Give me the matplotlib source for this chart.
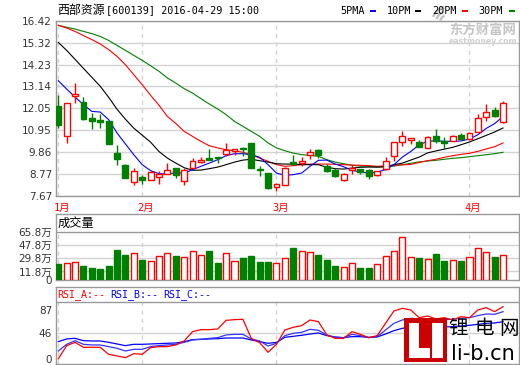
import matplotlib
matplotlib.use('Agg')
import matplotlib.pyplot as plt
from matplotlib.patches import Rectangle, Wedge
import matplotlib.transforms as mtrans

# ---------------- data ----------------
title_cn = "西部资源"
title_rest = "[600139] 2016-04-29 15:00"
months = ["1月", "2月", "3月", "4月"]
month_idx = [0, 10, 26, 49]

price_ticks = [16.42, 15.32, 14.23, 13.14, 12.05, 10.95, 9.86, 8.77, 7.67]
vol_ticks = [65.8, 47.8, 29.8, 11.8, 0]
vol_tick_labels = ["65.8万", "47.8万", "29.8万", "11.8万", "0"]
rsi_ticks = [87, 46, 0]

open_ = [12.18, 10.64, 12.68, 12.36, 11.56, 11.44, 11.39, 9.80, 9.22, 8.33, 8.60, 8.47, 8.59, 8.75, 9.05,
         8.38, 9.05, 9.34, 9.55, 9.59, 9.75, 9.92, 10.06, 10.31, 9.00, 8.80, 8.10, 8.22, 9.35, 9.30,
         9.72, 9.97, 9.14, 8.97, 8.47, 8.97, 9.00, 8.97, 8.69, 9.00, 9.64, 10.34, 10.44, 10.36, 10.06,
         10.66, 10.42, 10.42, 10.72, 10.51, 10.84, 11.59, 11.94, 11.34]
close = [11.23, 12.31, 12.77, 11.52, 11.42, 11.37, 10.27, 9.52, 8.56, 8.89, 8.47, 8.85, 8.76, 8.97, 8.69,
         8.97, 9.39, 9.47, 9.47, 9.55, 9.97, 10.00, 10.00, 9.05, 8.94, 8.05, 8.27, 9.05, 9.27, 9.39,
         9.84, 9.72, 8.92, 8.67, 8.77, 9.05, 8.84, 8.64, 8.89, 9.39, 10.34, 10.64, 10.56, 10.11, 10.61,
         10.39, 10.29, 10.67, 10.52, 10.81, 11.56, 11.84, 11.68, 12.31]
high = [12.73, 12.31, 13.31, 12.61, 11.81, 11.76, 11.39, 10.22, 9.27, 9.05, 8.72, 8.89, 8.89, 9.30, 9.05,
        9.05, 9.55, 9.59, 10.01, 9.59, 10.31, 10.00, 10.09, 10.31, 9.14, 8.80, 8.30, 9.09, 9.72, 9.59,
        10.01, 10.01, 9.27, 9.05, 8.80, 9.19, 9.00, 9.00, 8.92, 9.59, 10.34, 10.89, 10.56, 10.44, 10.64,
        11.02, 10.61, 10.69, 10.81, 10.84, 11.78, 12.26, 12.11, 12.43]
low = [11.06, 10.31, 12.31, 11.48, 11.03, 11.06, 10.27, 9.22, 8.56, 8.22, 8.27, 8.47, 8.27, 8.75, 8.55,
       8.22, 9.05, 9.30, 9.47, 9.30, 9.64, 9.72, 9.64, 9.05, 8.64, 8.02, 7.92, 8.18, 9.27, 9.14,
       9.50, 9.55, 8.84, 8.60, 8.42, 8.77, 8.77, 8.52, 8.64, 8.97, 9.42, 10.17, 10.27, 10.11, 10.06,
       10.31, 10.02, 10.39, 10.47, 10.44, 10.84, 11.42, 11.61, 11.31]

ma5 = [13.43, 13.01, 12.61, 12.23, 11.89, 11.86, 11.48, 10.81, 10.26, 9.72, 9.22, 8.92, 8.77, 8.75, 8.82,
       8.79, 8.97, 9.14, 9.30, 9.47, 9.67, 9.77, 9.77, 9.72, 9.59, 9.22, 8.80, 8.69, 8.72, 8.80,
       9.14, 9.44, 9.45, 9.25, 9.12, 8.94, 8.85, 8.80, 8.85, 8.97, 9.22, 9.60, 9.88, 10.22, 10.39,
       10.42, 10.39, 10.39, 10.41, 10.51, 10.72, 11.04, 11.28, 11.64]
ma10 = [15.35, 14.95, 14.50, 14.05, 13.60, 13.15, 12.60, 12.00, 11.50, 11.05, 10.70, 10.35, 9.88, 9.55, 9.30,
        9.07, 8.94, 8.95, 9.02, 9.10, 9.22, 9.35, 9.45, 9.49, 9.42, 9.35, 9.27, 9.25, 9.25, 9.22,
        9.22, 9.22, 9.09, 9.02, 9.00, 9.05, 9.09, 9.10, 9.10, 9.12, 9.22, 9.30, 9.45, 9.60, 9.81,
        9.91, 10.00, 10.09, 10.22, 10.36, 10.52, 10.69, 10.86, 11.06]
ma20 = [16.21, 16.07, 15.90, 15.69, 15.49, 15.27, 14.99, 14.65, 14.23, 13.73, 13.23, 12.70, 12.20, 11.64, 11.29,
        10.89, 10.64, 10.39, 10.17, 10.06, 9.97, 9.92, 9.84, 9.72, 9.55, 9.39, 9.22, 9.14, 9.17, 9.22,
        9.25, 9.25, 9.25, 9.24, 9.22, 9.20, 9.19, 9.17, 9.14, 9.15, 9.19, 9.21, 9.23, 9.33, 9.42,
        9.49, 9.59, 9.67, 9.74, 9.79, 9.89, 10.01, 10.12, 10.31]
ma30 = [16.21, 16.11, 16.02, 15.90, 15.79, 15.65, 15.45, 15.20, 14.95, 14.70, 14.45, 14.18, 13.90, 13.57, 13.31,
        13.03, 12.81, 12.53, 12.26, 12.01, 11.73, 11.39, 11.14, 10.89, 10.64, 10.31, 10.06, 9.92, 9.80, 9.72,
        9.69, 9.64, 9.47, 9.35, 9.27, 9.19, 9.15, 9.14, 9.10, 9.12, 9.15, 9.22, 9.29, 9.36, 9.40,
        9.44, 9.49, 9.54, 9.57, 9.62, 9.67, 9.72, 9.77, 9.84]

volume = [22, 23, 24.4, 20, 16.5, 15, 20, 41, 34.5, 36.8, 27.6, 25.8, 32.7, 36.8, 32.7, 31.3, 39.6, 34,
          39.6, 23.5, 36.8, 25.8, 30.4, 32.7, 24.8, 24.8, 23, 30, 43.7, 39.6, 38.2, 34.5, 27.6, 19.3,
          17.5, 23, 16.5, 16.5, 21.6, 32.7, 39.6, 58.9, 31.3, 30.4, 28.5, 35.9, 26.2, 27.1, 26.2, 31.3,
          43.7, 38.2, 31.3, 34]

rsi_a = [0.4, 23.7, 29.6, 20.8, 20.8, 20.8, 8.3, 5.4, 2.4, 9.5, 8.3, 20.2, 22.0, 22.0, 24.9, 32.0, 48.6,
         52.1, 52.1, 53.3, 68.7, 69.9, 70.5, 36.7, 29.0, 11.9, 26.1, 51.5, 56.3, 59.2, 69.3, 66.3, 42.7,
         36.7, 36.7, 48.6, 43.8, 37.9, 41.5, 63.4, 85.3, 90.0, 87.1, 73.4, 76.4, 71.1, 73.4, 69.3, 75.2,
         73.4, 87.1, 91.2, 84.1, 93.0]
rsi_b = [14.2, 26.1, 32.6, 26.1, 24.9, 24.9, 22.0, 19.0, 14.2, 17.2, 17.2, 22.0, 23.7, 24.9, 26.1, 29.6,
         33.8, 35.0, 36.7, 37.9, 42.7, 43.8, 43.8, 35.6, 32.0, 23.1, 27.9, 41.5, 45.6, 47.4, 52.7, 51.0,
         42.7, 38.5, 37.9, 43.8, 41.5, 37.9, 39.7, 51.5, 63.4, 69.3, 72.3, 71.1, 71.1, 70.5, 69.9, 70.5,
         72.3, 73.4, 77.0, 80.0, 79.4, 84.1]
rsi_c = [30.8, 35.6, 36.7, 32.6, 32.0, 32.0, 29.6, 26.7, 23.7, 26.1, 26.1, 26.7, 27.3, 27.9, 28.5, 30.8,
         34.4, 35.0, 35.6, 36.1, 37.3, 37.3, 37.3, 33.8, 30.8, 27.9, 29.6, 38.5, 40.3, 42.1, 44.4, 46.2,
         41.5, 39.1, 37.9, 39.7, 39.7, 38.5, 39.1, 44.4, 50.4, 54.5, 56.3, 56.3, 56.9, 56.9, 56.9, 57.5,
         58.6, 59.8, 61.6, 63.4, 64.0, 66.3]

# ---------------- style ----------------
RED = '#ff0000'
GREEN = '#008000'
BLUE = '#0000ff'
FRAME = '#999999'
GRID = '#d3d3d3'
TXT = '#333333'
CJK = ['Noto Sans CJK SC']
MONO = ['DejaVu Sans Mono', 'Noto Sans CJK SC']
SANS = ['DejaVu Sans', 'Noto Sans CJK SC']

W, H = 520, 365
fig = plt.figure(figsize=(W / 100, H / 100), dpi=100)
fig.patch.set_facecolor('white')


def px_axes(x0, y0, x1, y1, **kw):
    return fig.add_axes([x0 / W, 1 - y1 / H, (x1 - x0) / W, (y1 - y0) / H], **kw)


n = len(close)
xs = list(range(n))
XL = (-0.33, 54.9)

ax_p = px_axes(55.5, 20.7, 519, 195.6)
ax_v = px_axes(55.5, 214.3, 519, 280)
ax_r = px_axes(55.5, 287.3, 519, 364)

for ax in (ax_p, ax_v, ax_r):
    ax.set_xlim(*XL)
    ax.set_xticks([])
    for s in ax.spines.values():
        s.set_color(FRAME)
        s.set_linewidth(1.0)
    ax.tick_params(axis='y', length=0, pad=2.5, labelsize=7.5, labelcolor=TXT)

# ---------- price panel ----------
ax_p.set_ylim(7.67, 7.67 + (195.6 - 20.7) * 0.05013)
ax_p.set_yticks(price_ticks)
ax_p.set_yticklabels([f"{t:.2f}" for t in price_ticks], family='DejaVu Sans')
for t in price_ticks:
    ax_p.axhline(t, color=GRID, lw=1.0, zorder=0)
for m in month_idx:
    ax_p.axvline(m, color=GRID, lw=1.0, ls=(0, (3, 3)), zorder=0)

ax_p.plot(xs, ma30, color=GREEN, lw=0.8, zorder=2)
ax_p.plot(xs, ma20, color=RED, lw=0.8, zorder=2)
ax_p.plot(xs, ma10, color='black', lw=0.8, zorder=2)
ax_p.plot(xs, ma5, color=BLUE, lw=0.8, zorder=2)

bw = 0.7
for i in range(n):
    o, c, h, l = open_[i], close[i], high[i], low[i]
    if c >= o:
        ax_p.vlines(i, c, h, color=RED, lw=1.0, zorder=3)
        ax_p.vlines(i, l, o, color=RED, lw=1.0, zorder=3)
        ax_p.add_patch(Rectangle((i - bw / 2, o), bw, max(c - o, 0.02), facecolor='white',
                                 edgecolor=RED, lw=1.0, zorder=4))
    else:
        ax_p.vlines(i, l, h, color=GREEN, lw=1.0, zorder=3)
        ax_p.add_patch(Rectangle((i - bw / 2, c), bw, max(o - c, 0.02), facecolor=GREEN,
                                 edgecolor=GREEN, lw=1.0, zorder=4))

# ---------- volume panel ----------
v_sep = 65.8
ax_v.set_ylim(0, v_sep * (280 - 214.3) / (280 - 232.3))
ax_v.set_yticks(vol_ticks)
ax_v.set_yticklabels(vol_tick_labels, family=SANS)
ax_v.axhline(v_sep, color=FRAME, lw=1.0, zorder=5)
for t in vol_ticks[1:-1]:
    ax_v.axhline(t, color=GRID, lw=1.0, zorder=0)
for m in month_idx:
    ax_v.vlines(m, 0, v_sep, color=GRID, lw=1.0, ls=(0, (3, 3)), zorder=0)
vw = 0.72
for i in range(n):
    up = close[i] >= open_[i]
    ax_v.bar(i, volume[i], width=vw, color='white' if up else GREEN,
             edgecolor=RED if up else GREEN, lw=1.0, zorder=3)
ax_v.text(0.005, 0.865, "成交量", transform=ax_v.transAxes, family=CJK, fontsize=8.8,
          color='black', va='center', ha='left')

# ---------- RSI panel ----------
rpp = 1 / 0.563
r_lo = (359 - 364) * rpp
r_hi = (359 - 287.3) * rpp
r_sep = (359 - 301.7) * rpp
ax_r.set_ylim(r_lo, r_hi)
ax_r.set_yticks(rsi_ticks)
ax_r.set_yticklabels([str(t) for t in rsi_ticks], family='DejaVu Sans')
ax_r.axhline(r_sep, color=FRAME, lw=1.0, zorder=5)
ax_r.axhline(46, color=GRID, lw=1.0, zorder=0)
for m in month_idx:
    ax_r.vlines(m, r_lo, r_sep, color=GRID, lw=1.0, ls=(0, (3, 3)), zorder=0)
ax_r.plot(xs, rsi_c, color=BLUE, lw=0.9, zorder=2)
ax_r.plot(xs, rsi_b, color='#3333ff', lw=0.9, zorder=2)
ax_r.plot(xs, rsi_a, color=RED, lw=0.9, zorder=3)

# ---------- overlay (text, logos) ----------
ov = fig.add_axes([0, 0, 1, 1], zorder=10)
ov.set_xlim(0, W)
ov.set_ylim(H, 0)
ov.axis('off')
ov.patch.set_alpha(0)

ov.text(57, 10.5, title_cn, family=CJK, fontsize=8.6, color='black', va='center', ha='left')
ov.text(105.5, 10.5, title_rest, family=MONO, fontsize=7.3, color='black', va='center', ha='left')

# MA legend
leg = [("5PMA", BLUE, 340, 370), ("10PM", 'black', 387, 415), ("20PM", RED, 432, 462), ("30PM", GREEN, 478, 509)]
for lab, col, tx, dx in leg:
    ov.text(tx, 10.5, lab, family=MONO, fontsize=7.3, color='black', va='center', ha='left')
    ov.add_patch(Rectangle((dx, 9.5), 6, 2.2, color=col, lw=0))

# month labels
trans = mtrans.blended_transform_factory(ax_p.transData, ov.transData)
for lab, m in zip(months, month_idx):
    ov.text(m - 0.55, 207.5, lab, transform=trans, family=MONO, fontsize=7.5, color=RED,
            va='center', ha='left')

# RSI header
ov.text(57, 294.3, "RSI_A:--", family=MONO, fontsize=7.2, color=RED, va='center', ha='left')
ov.text(110, 294.3, "RSI_B:--", family=MONO, fontsize=7.2, color=BLUE, va='center', ha='left')
ov.text(163, 294.3, "RSI_C:--", family=MONO, fontsize=7.2, color=BLUE, va='center', ha='left')

# eastmoney watermark
wm = '#c4c4c4'
ov.text(483, 29.5, "东方财富网", family=CJK, fontsize=9.6, fontweight='bold', color=wm,
        va='center', ha='center')
ov.text(483, 41, "eastmoney.com", family='DejaVu Sans', fontsize=5.6, fontweight='bold', color='#d0d0d0',
        va='center', ha='center')
for r0, th1, th2 in [(16, 200, 260), (12, 195, 255), (8, 190, 250)]:
    ov.add_patch(Wedge((447, 22), r0, th1, th2, width=2.6, color=wm, lw=0))

# li-b.cn logo
ov.add_patch(Rectangle((404, 317.7), 43, 44.3, color='#cc0000', lw=0))
ov.add_patch(Rectangle((408.5, 323), 10, 35, color='white', lw=0))
ov.add_patch(Rectangle((408.5, 348), 21, 10, color='white', lw=0))
ov.add_patch(Rectangle((432, 323), 11, 35, color='white', lw=0))
for ch, cx in zip("锂电网", [458, 484, 509]):
    ov.text(cx, 328.5, ch, family=CJK, fontsize=14, color='black', va='center', ha='center')
ov.text(483, 353.5, "li-b.cn", family='DejaVu Sans', fontsize=15, color='black', va='center', ha='center')

fig.savefig('out.png', dpi=100, facecolor='white')
